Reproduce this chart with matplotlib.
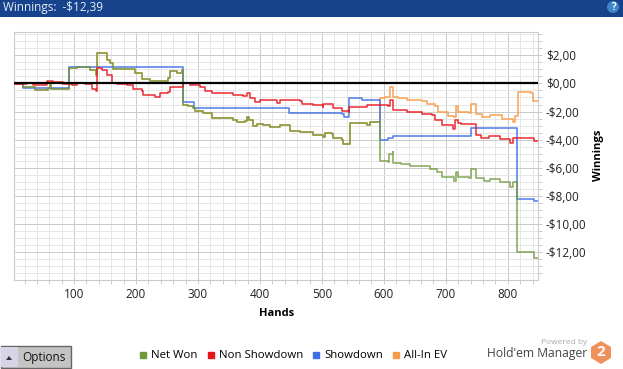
"""Winnings graph from Hold'em Manager: net won, non showdown, showdown and all-in EV."""
import matplotlib
matplotlib.use("Agg")
import matplotlib.pyplot as plt
from matplotlib.lines import Line2D
from matplotlib.patches import Circle, Polygon, Rectangle
from matplotlib.ticker import FuncFormatter, MultipleLocator

plt.rcParams["font.family"] = ["Open Sans", "DejaVu Sans"]

net_hands = [3, 18, 37, 58, 61, 61, 63, 90, 92, 105, 126, 136, 137, 142, 153, 158, 163, 186, 199, 210,
             223, 234, 252, 255, 266, 274, 275, 284, 292, 295, 308, 323, 357, 363, 376, 379, 383, 388,
             396, 405, 417, 433, 444, 449, 465, 486, 501, 505, 517, 518, 533, 534, 544, 546, 562, 573,
             577, 593, 594, 606, 609, 614, 615, 627, 643, 662, 675, 686, 694, 714, 715, 717, 720, 738,
             741, 748, 749, 761, 772, 788, 804, 808, 814, 815, 825, 840, 842, 848]
net_won = [-0.05, -0.24, -0.45, -0.33, -0.33, 0.0, -0.37, -0.38, 1.09, 1.14, 0.95, 0.59, 2.18, 2.15, 1.66,
           1.45, 1.02, 1.02, 0.73, 0.31, 0.19, 0.16, 0.38, 0.90, 0.76, 0.95, -1.55, -1.62, -1.76, -1.95,
           -2.12, -2.45, -2.62, -2.76, -2.67, -2.42, -2.62, -3.02, -2.90, -2.97, -3.09, -2.97, -2.97, -3.38,
           -3.45, -3.69, -3.81, -3.52, -3.61, -3.90, -4.03, -4.32, -4.32, -2.81, -2.85, -2.97, -2.74, -2.74,
           -5.52, -5.59, -4.99, -4.88, -5.66, -5.72, -5.85, -5.86, -6.06, -6.30, -6.66, -6.94, -6.94, -6.30,
           -6.66, -6.73, -6.06, -6.06, -6.70, -6.94, -6.80, -7.02, -7.37, -7.02, -7.02, -12.0, -11.99, -11.96,
           -12.42, -12.39]

non_sd_hands = [3, 24, 34, 53, 56, 66, 82, 97, 105, 118, 129, 136, 137, 145, 153, 161, 169, 186, 195, 210,
                211, 231, 239, 252, 255, 271, 276, 287, 304, 312, 323, 357, 373, 379, 384, 392, 400, 428,
                433, 465, 468, 486, 501, 502, 514, 518, 533, 543, 544, 565, 573, 593, 607, 610, 614, 638,
                662, 678, 683, 694, 712, 715, 720, 724, 748, 749, 756, 769, 788, 804, 808, 837, 843, 848]
non_showdown = [-0.01, 0.02, -0.12, -0.12, 0.19, 0.09, -0.05, -0.12, 0.04, -0.01, -0.43, -0.53, 1.07, 0.95,
                0.59, 0.04, -0.07, -0.12, -0.43, -0.53, -0.83, -1.0, -0.71, -0.60, -0.24, -0.24, 0.0, -0.12,
                -0.24, -0.53, -0.71, -0.83, -0.91, -0.67, -1.07, -1.31, -1.19, -1.38, -1.19, -1.24, -1.43,
                -1.55, -1.67, -1.43, -1.43, -1.78, -1.97, -2.02, -1.69, -1.69, -1.55, -1.51, -1.62, -1.19,
                -1.90, -2.02, -2.15, -2.26, -2.62, -2.97, -3.21, -2.57, -2.81, -2.90, -2.97, -3.69, -3.85,
                -3.74, -3.92, -4.24, -3.85, -3.85, -4.09, -4.09]

sd_hands = [3, 9, 18, 58, 90, 92, 274, 275, 292, 294, 446, 447, 533, 535, 543, 544, 560, 564, 593, 594,
            599, 607, 614, 738, 741, 814, 815, 840, 842, 848]
showdown = [0.0, -0.05, -0.31, -0.31, -0.31, 1.14, 1.14, -1.35, -1.35, -1.78, -1.78, -2.10, -2.14, -2.42,
            -2.42, -1.07, -1.07, -1.19, -1.19, -3.99, -4.04, -3.88, -3.76, -3.76, -3.14, -3.14, -8.20, -8.20,
            -8.37, -8.37]

# all-in EV sits under net won until the first all-in around hand 594
shared_points = 58
ev_hands = net_hands[:shared_points] + [594, 602, 609, 610, 614, 615, 623, 638, 662, 670, 683, 688, 704, 714,
                                        717, 720, 738, 741, 748, 749, 759, 772, 791, 808, 811, 814, 816, 837,
                                        840, 848]
allin_ev = net_won[:shared_points] + [-1.07, -0.96, -0.96, -0.24, -0.26, -0.96, -1.03, -1.19, -1.26, -1.43,
                                      -1.62, -2.03, -2.33, -2.38, -1.62, -2.03, -2.10, -1.43, -1.43, -2.14,
                                      -2.38, -2.26, -2.50, -2.74, -2.31, -2.31, -0.60, -0.67, -1.24, -1.24]

series_labels = ["Net Won", "Non Showdown", "Showdown", "All-In EV"]
series_colors = ["#6f9a3c", "#e8141c", "#3f6fe8", "#f79a46"]


def fmt_money(v, _pos):
    return f"-${abs(v):.2f}".replace(".", ",") if v < 0 else f"${v:.2f}".replace(".", ",")


fig = plt.figure(figsize=(6.23, 3.69), dpi=100)
ax = fig.add_axes([14 / 623, 1 - 279.5 / 369, 523.5 / 623, 247.5 / 369])

ax.plot(ev_hands, allin_ev, color=series_colors[3], lw=1.2, alpha=0.85, zorder=2, drawstyle="steps-post")
ax.plot(sd_hands, showdown, color=series_colors[2], lw=1.2, alpha=0.85, zorder=3, drawstyle="steps-post")
ax.plot(non_sd_hands, non_showdown, color=series_colors[1], lw=1.1, alpha=0.9, zorder=4, drawstyle="steps-post")
ax.plot(net_hands, net_won, color=series_colors[0], lw=1.2, alpha=0.8, zorder=3.5, drawstyle="steps-post")
ax.axhline(0, color="black", lw=1.6, zorder=6)

ax.set_xlim(3, 848)
ax.set_ylim(-13.95, 3.66)
ax.xaxis.set_major_locator(MultipleLocator(100))
ax.xaxis.set_minor_locator(MultipleLocator(20))
ax.yaxis.set_major_locator(MultipleLocator(2))
ax.yaxis.set_minor_locator(MultipleLocator(0.5))
ax.yaxis.set_major_formatter(FuncFormatter(fmt_money))
ax.yaxis.tick_right()
ax.set_axisbelow(True)
ax.grid(which="major", color="#cbcbcb", lw=0.72)
ax.grid(which="minor", color="#e6e6e6", lw=0.72)
ax.tick_params(which="both", color="#cbcbcb", length=3, width=0.7)
ax.tick_params(which="major", labelsize=8.5, pad=3, labelcolor="#222222")
for side in ax.spines.values():
    side.set_color("#cbcbcb")
    side.set_linewidth(0.8)

fig.text(277 / 623, 1 - 314 / 369, "Hands", fontsize=8, fontweight="bold", ha="center", va="center")
fig.text(598 / 623, 1 - 155 / 369, "Winnings", fontsize=8, fontweight="bold", rotation=90,
         ha="center", va="center")

handles = [Line2D([], [], ls="none", marker="s", ms=4, color=c) for c in series_colors]
fig.legend(handles, series_labels, loc="center", bbox_to_anchor=(293 / 623, 1 - 356 / 369), ncol=4,
           frameon=False, fontsize=8.2, handlelength=0.7, handletextpad=0.35, columnspacing=0.8, borderpad=0)

# window chrome around the chart, in pixel coordinates
ui = fig.add_axes([0, 0, 1, 1], zorder=10)
ui.set_xlim(0, 623)
ui.set_ylim(369, 0)
ui.axis("off")
ui.add_patch(Rectangle((0, 0), 623, 17, color="#16438c", lw=0))
ui.text(3, 8, "Winnings:  -$12,39", color="#e8eef8", fontsize=8.5, va="center")
ui.add_patch(Circle((613, 7), 6, color="#3f86c8", lw=0))
ui.text(613, 7, "?", color="white", fontsize=7, fontweight="bold", ha="center", va="center")

ui.add_patch(Rectangle((0.5, 346), 70, 22, facecolor="#c4c4c4", edgecolor="#666666", lw=1))
ui.add_patch(Rectangle((1, 347), 17, 20, facecolor="#d5d5e6", lw=0))
ui.add_patch(Polygon([(6, 360), (12, 360), (9, 356)], color="#333333", lw=0))
ui.text(44, 357, "Options", fontsize=8.5, ha="center", va="center", color="#111111")

ui.text(587, 343, "Powered by", fontsize=6, ha="right", va="center", color="#aaaaaa")
ui.text(587, 354, "Hold'em Manager", fontsize=8.7, ha="right", va="center", color="#444444")
ui.add_patch(Polygon([(601, 341), (611, 347), (611, 358), (601, 364), (591, 358), (591, 347)],
                     color="#f0905a", lw=0))
ui.text(601, 352.5, "2", fontsize=11, fontweight="bold", color="white", ha="center", va="center")

fig.savefig("out.png", dpi=100)
